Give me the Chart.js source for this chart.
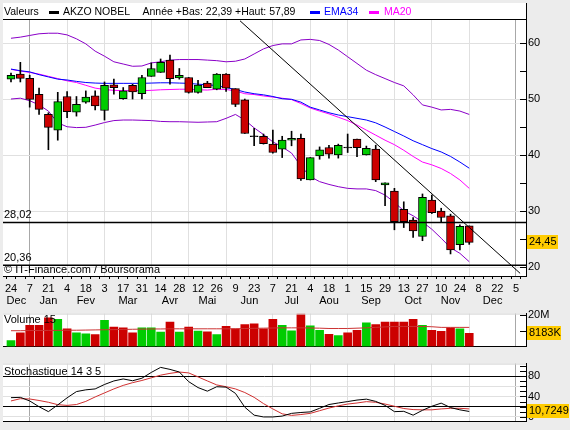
<!DOCTYPE html>
<html>
<head>
<meta charset="utf-8">
<script src="https://cdn.jsdelivr.net/npm/chart.js@4.4.1/dist/chart.umd.min.js"></script>
<style>
  html, body { margin: 0; padding: 0; background: #ececec; }
  #wrap { position: relative; width: 570px; height: 430px; overflow: hidden; }
  canvas { position: absolute; left: 0; }
</style>
</head>
<body>
<div id="wrap">
  <canvas id="price" width="570" height="310" style="top:0"></canvas>
  <canvas id="volume" width="570" height="50" style="top:305px"></canvas>
  <canvas id="stoch" width="570" height="75" style="top:355px"></canvas>
</div>
<script>
// weekly data, week 0 = 24 Dec 2007
var weekDays = [24, 7, 21, 4, 18, 3, 17, 31, 14, 28, 12, 26, 9, 23, 7, 21, 4, 18, 1, 15, 29, 13, 27, 10, 24, 8, 22, 5];
var monthNames = ['Dec', 'Jan', 'Fev', 'Mar', 'Avr', 'Mai', 'Jun', 'Jul', 'Aou', 'Sep', 'Oct', 'Nov', 'Dec'];
var monthStarts = [-3, 2, 6, 10, 15, 19, 23, 28, 32, 36, 41, 45, 49, 54];
var yearStarts = [2, 54];

var opens = [53.6, 54.5, 53.75, 50.9, 47.3, 44.5, 50.5, 47.7, 49.5, 50.6, 48.0, 52.6, 50.1, 52.5, 51.0, 54.1, 54.8, 57.0, 53.8, 53.9,
  51.25, 52.9, 51.8, 54.5, 51.9, 49.9, 43.4, 43.4, 42.0, 41.1, 42.7, 43.05, 35.6, 39.9, 41.4, 40.05, 41.4, 42.9, 40.05, 41.1,
  34.7, 33.6, 30.35, 28.45, 25.5, 32.0, 30.05, 29.2, 24.05, 27.4];
var highs = [54.7, 56.6, 54.3, 52.0, 47.6, 51.25, 51.4, 50.5, 51.5, 51.5, 53.1, 53.6, 52.1, 52.7, 54.3, 56.5, 57.2, 57.89, 55.5, 53.9,
  53.4, 53.2, 54.6, 54.6, 51.9, 50.05, 44.8, 43.8, 44.5, 43.4, 44.3, 43.8, 39.6, 41.5, 41.8, 42.0, 43.8, 42.9, 41.65, 41.8,
  35.1, 34.1, 31.7, 28.9, 33.1, 32.9, 30.55, 29.5, 27.6, 27.4];
var lows = [53.1, 53.1, 48.6, 47.3, 41.0, 42.7, 46.7, 47.0, 49.3, 48.1, 46.3, 50.9, 50.0, 50.05, 50.05, 54.1, 54.8, 52.7, 53.6, 51.1,
  51.1, 52.1, 51.7, 51.4, 48.7, 43.9, 41.7, 42.0, 40.4, 39.6, 41.7, 35.5, 35.6, 39.3, 39.5, 39.5, 40.5, 39.75, 40.05, 35.3,
  31.0, 26.7, 27.1, 25.35, 24.75, 29.6, 28.15, 22.39, 23.1, 24.1];
var closes = [54.3, 53.75, 50.0, 48.2, 45.0, 49.6, 47.8, 49.1, 50.4, 48.8, 52.5, 52.1, 51.5, 51.3, 53.9, 55.5, 56.6, 53.7, 54.3, 51.25,
  52.55, 52.1, 54.5, 52.0, 49.1, 43.9, 43.4, 42.1, 40.5, 42.7, 43.05, 35.8, 39.6, 41.0, 40.2, 41.8, 41.4, 41.35, 41.25, 35.6,
  35.1, 28.15, 28.15, 26.5, 32.5, 29.75, 28.9, 23.1, 27.3, 24.45];

var ema34 = [55.4, 55.1, 54.9, 54.4, 54.0, 53.6, 53.45, 53.2, 53.0, 52.9, 52.85, 52.85, 52.85, 52.85, 52.85, 52.9, 52.95, 52.95, 52.9, 52.85,
  52.7, 52.6, 52.45, 52.1, 51.75, 51.3, 51.0, 50.8, 50.5, 50.1, 50.0, 49.5, 48.6, 48.1, 47.6, 47.2, 46.9, 46.6, 46.3, 45.8,
  45.05, 44.25, 43.45, 42.6, 41.9, 41.2, 40.6, 39.8, 38.8, 37.7];
var ma20 = [55.35, 55.05, 54.8, 54.5, 54.1, 53.7, 53.3, 53.0, 52.5, 52.0, 51.75, 51.6, 51.55, 51.55, 51.55, 51.6, 51.7, 51.75, 51.8, 51.8,
  51.7, 51.65, 51.8, 51.75, 51.5, 51.0, 50.85, 50.6, 50.4, 50.2, 49.95, 49.25, 48.45, 47.9, 47.4, 46.8, 46.2, 45.4, 44.5, 43.6,
  42.7, 41.9, 40.9, 39.8, 38.8, 38.3, 37.65, 36.75, 35.6, 34.1];
var bollUp = [60.9, 61.1, 61.4, 61.7, 61.8, 61.8, 61.5, 60.8, 59.9, 58.6, 57.7, 56.7, 56.3, 55.9, 55.95, 56.5, 56.7, 57.0, 57.1, 57.1,
  57.1, 57.0, 56.9, 56.7, 56.8, 57.2, 58.1, 59.0, 59.6, 59.9, 59.9, 60.6, 60.7, 60.5, 59.8, 58.8, 57.6, 56.4, 55.2, 54.4,
  53.7, 53.0, 52.4, 50.8, 49.0, 48.6, 48.1, 48.2, 47.9, 47.3];
var bollDown = [50.05, 50.2, 49.75, 49.0, 47.9, 45.8, 45.1, 44.95, 45.0, 45.4, 45.85, 46.2, 46.3, 46.3, 46.25, 46.2, 46.05, 46.0, 46.0, 45.95,
  45.9, 45.95, 46.0, 46.6, 47.3, 46.3, 44.9, 43.7, 42.4, 41.5, 40.4, 38.1, 36.2, 35.3, 34.8, 34.4, 34.1, 34.0, 34.0, 33.7,
  32.9, 31.6, 30.1, 29.2, 28.1, 26.8, 25.2, 23.5, 22.5, 21.0];

var levels = [28.02, 20.36];
var trendX = [24.49, 54.44];
var trendY = [64.02, 18.93];

// volume in millions
var volumes = [3.7, 8.5, 13.3, 13.3, 18.0, 17.0, 11.1, 8.5, 8.0, 7.4, 16.4, 12.2, 11.7, 8.5, 11.7, 11.7, 9.0, 15.4, 9.0, 12.2,
  9.7, 9.2, 7.4, 12.7, 11.1, 13.8, 14.3, 11.1, 17.0, 13.3, 9.8, 20.6, 12.9, 10.2, 7.6, 6.9, 8.5, 10.2, 14.9, 13.8,
  15.4, 15.4, 15.4, 17.0, 13.3, 10.1, 9.5, 11.7, 11.1, 8.183];
var volUp = [1, 0, 0, 0, 0, 1, 0, 1, 1, 0, 1, 0, 0, 0, 1, 1, 1, 0, 1, 0,
  1, 0, 1, 0, 0, 0, 0, 0, 0, 1, 1, 0, 1, 1, 0, 1, 0, 0, 1, 0,
  0, 0, 0, 0, 1, 0, 0, 0, 1, 0];
var volMA = [9.9, 9.9, 10.0, 10.0, 10.1, 10.1, 10.2, 10.2, 10.3, 10.4, 10.5, 10.6, 10.7, 10.8, 10.9, 11.0, 11.0, 11.1, 11.1, 11.1,
  11.1, 11.1, 11.1, 11.1, 11.1, 11.3, 11.4, 11.5, 11.6, 11.7, 11.7, 11.7, 11.6, 11.5, 11.3, 11.3, 11.3, 11.5, 11.7, 12.0,
  12.3, 12.6, 12.6, 12.6, 12.6, 12.4, 12.0, 12.0, 12.0, 12.0];

var stochK = [37.7, 38.3, 31.3, 20.0, 10.4, 23.5, 37.4, 49.6, 53.0, 54.8, 63.5, 70.4, 74.3, 70.8, 75.7, 87.0, 96.9, 93.0, 87.8, 69.0,
  57.4, 50.4, 59.1, 58.3, 46.1, 19.1, 3.5, 0, 0, 1.7, 7.0, 8.7, 9.9, 16.9, 24.3, 27.3, 30.1, 33.0, 34.8, 30.4,
  22.6, 10.4, 11.0, 3.5, 13.0, 20.9, 27.0, 18.3, 13.9, 10.7249];
var stochD = [31.3, 35.7, 35.1, 32.2, 28.7, 24.0, 22.6, 24.3, 30.4, 39.1, 47.0, 54.8, 61.7, 67.0, 71.3, 76.5, 81.7, 85.2, 87.8, 86.1,
  78.3, 70.4, 62.6, 59.1, 54.8, 47.8, 38.3, 26.1, 15.7, 6.1, 3.0, 4.7, 7.0, 12.2, 17.4, 21.7, 25.2, 27.3, 29.9, 28.7,
  25.2, 20.9, 16.5, 14.4, 13.9, 13.9, 15.7, 16.9, 16.9, 15.7];

var X_MIN = -0.855, X_MAX = 55.07;
var GREEN = '#00cc00', RED = '#cc0000', GRID = '#e0e0e0', YEARLINE = '#a8a8a8', PURPLE = '#8a00c8';
var FONT = '"Liberation Sans", Arial, sans-serif';

Chart.defaults.font.family = FONT;
Chart.defaults.font.size = 11;
Chart.defaults.color = '#000';
Chart.defaults.animation = false;

function fmt(v, d) { return v.toFixed(d).replace('.', ','); }
function pts(arr) { return arr.map(function (v, i) { return { x: i, y: v }; }); }

var monthCentres = monthNames.map(function (m, k) {
  var a = Math.max(monthStarts[k], X_MIN), b = Math.min(monthStarts[k + 1], X_MAX);
  return (a + b) / 2;
});

// x axis carrying the month grid lines and the bottom border
function gridX() {
  return {
    type: 'linear', position: 'bottom', min: X_MIN, max: X_MAX, offset: false, weight: 0,
    afterBuildTicks: function (s) {
      s.ticks = monthStarts.filter(function (v) { return v >= X_MIN && v <= X_MAX; }).map(function (v) { return { value: v }; });
    },
    afterFit: function (s) { s.height = 0; },
    ticks: { display: false },
    grid: {
      drawTicks: false, offset: false,
      color: function (c) { return c.tick && yearStarts.indexOf(c.tick.value) >= 0 ? YEARLINE : GRID; }
    },
    border: { display: true, color: '#000', width: 1 }
  };
}

function valueY(tickVals, min, max, labelFn, gridFn) {
  return {
    type: 'linear', position: 'right', min: min, max: max,
    afterBuildTicks: function (s) { s.ticks = tickVals.map(function (v) { return { value: v }; }); },
    afterFit: function (s) { s.width = 44; },
    ticks: { autoSkip: false, padding: 2, callback: labelFn },
    grid: { drawTicks: false, color: gridFn, lineWidth: 1 },
    border: { display: true, color: '#000', width: 1 }
  };
}

var panelPlugin = {
  id: 'panel',
  beforeDraw: function (chart, args, opts) {
    var a = chart.chartArea, ctx = chart.ctx;
    var top = opts.top != null ? opts.top : a.top;
    ctx.save();
    ctx.fillStyle = '#fff';
    ctx.fillRect(a.left, top, a.right - a.left, a.bottom - top);
    ctx.restore();
  },
  afterDraw: function (chart, args, opts) {
    var a = chart.chartArea, ctx = chart.ctx, s = chart.scales.y;
    ctx.save();
    ctx.strokeStyle = '#000';
    ctx.lineWidth = 1;
    s.ticks.forEach(function (t) {
      var y = Math.round(s.getPixelForValue(t.value)) + 0.5;
      ctx.beginPath(); ctx.moveTo(a.right - 6, y); ctx.lineTo(a.right, y); ctx.stroke();
    });
    if (opts.topLine) { ctx.fillStyle = opts.topLine; ctx.fillRect(a.left, a.top, a.right - a.left, 1); }
    ctx.font = '11px ' + FONT;
    ctx.textBaseline = 'middle';
    ctx.fillStyle = '#000';
    if (opts.title) ctx.fillText(opts.title, a.left + 1, a.top + opts.titleDy);
    if (opts.extra) opts.extra(chart, ctx);
    if (opts.box) {
      var y = s.getPixelForValue(opts.box.value);
      ctx.fillStyle = '#ffcc00';
      ctx.fillRect(a.right + 1, Math.round(y - 7), opts.box.width, 14);
      ctx.fillStyle = '#000';
      ctx.font = '11px ' + FONT;
      ctx.fillText(opts.box.text, a.right + 3, y);
    }
    ctx.restore();
  }
};

function line(data, color, order) {
  return { type: 'line', data: pts(data), borderColor: color, borderWidth: 1, pointRadius: 0, tension: 0, order: order };
}

var idx = closes.map(function (v, i) { return i; });
var last = closes.length - 1;

// ---------- price ----------
var bodies = idx.map(function (i) {
  var o = opens[i], c = closes[i];
  if (Math.abs(o - c) < 0.1) return { x: i, y: [o - 0.09, o + 0.09] };
  return { x: i, y: [o, c] };
});
var bodyColors = idx.map(function (i) {
  if (Math.abs(opens[i] - closes[i]) < 0.1) return '#000';
  return closes[i] > opens[i] ? GREEN : RED;
});

new Chart(document.getElementById('price'), {
  type: 'bar',
  data: {
    datasets: [
      { type: 'line', data: [{ x: X_MIN, y: levels[0] }, { x: X_MAX, y: levels[0] }], borderColor: '#000', borderWidth: 1.5, pointRadius: 0, order: 0 },
      { type: 'line', data: [{ x: X_MIN, y: levels[1] }, { x: X_MAX, y: levels[1] }], borderColor: '#000', borderWidth: 1.5, pointRadius: 0, order: 0 },
      { type: 'line', data: [{ x: trendX[0], y: trendY[0] }, { x: trendX[1], y: trendY[1] }], borderColor: '#000', borderWidth: 1, pointRadius: 0, order: 0 },
      { data: bodies, backgroundColor: bodyColors, borderColor: '#000', borderWidth: 1, borderSkipped: false, barThickness: 8, grouped: false, order: 1 },
      { data: idx.map(function (i) { return { x: i, y: [lows[i], highs[i]] }; }), backgroundColor: '#000', borderWidth: 0, barThickness: 1, grouped: false, order: 2 },
      line(bollUp, PURPLE, 3),
      line(bollDown, PURPLE, 3),
      line(ema34, '#0000ff', 3),
      line(ma20, '#ff00ff', 3)
    ]
  },
  options: {
    responsive: false,
    events: [],
    layout: { autoPadding: false, padding: { left: 3, top: 19, right: 0, bottom: 0 } },
    scales: {
      x: gridX(),
      xd: {
        type: 'linear', position: 'bottom', min: X_MIN, max: X_MAX, offset: false, weight: 1,
        afterBuildTicks: function (s) {
          var t = [];
          for (var i = 0; i <= (weekDays.length - 1) * 2; i++) t.push({ value: i });
          s.ticks = t;
        },
        afterFit: function (s) { s.height = 16; },
        ticks: { autoSkip: false, maxRotation: 0, padding: 3, callback: function (v) { return v % 2 === 0 ? String(weekDays[v / 2]) : ''; } },
        grid: { drawOnChartArea: false, drawTicks: true, tickLength: 3, color: '#000' },
        border: { display: false }
      },
      xm: {
        type: 'linear', position: 'bottom', min: X_MIN, max: X_MAX, offset: false, weight: 2,
        afterBuildTicks: function (s) { s.ticks = monthCentres.map(function (v) { return { value: v }; }); },
        afterFit: function (s) { s.height = 18; },
        ticks: { autoSkip: false, maxRotation: 0, padding: 2, callback: function (v, i) { return monthNames[i]; } },
        grid: { display: false, drawTicks: false },
        border: { display: false }
      },
      y: valueY([20, 25, 30, 35, 40, 45, 50, 55, 60], 18.45, 64.34,
        function (v) { return v % 10 === 0 ? String(v) : ''; },
        function (c) { return c.tick && c.tick.value % 10 === 0 ? GRID : 'rgba(0,0,0,0)'; })
    },
    plugins: {
      legend: { display: false },
      tooltip: { enabled: false },
      panel: {
        top: 3,
        box: { value: closes[last], text: fmt(closes[last], 2), width: 31 },
        extra: function (chart, ctx) {
          var a = chart.chartArea, y = chart.scales.y;
          ctx.fillStyle = '#000';
          ctx.fillRect(a.left, 19, a.right - a.left, 1);
          ctx.fillRect(a.right, 3, 1, 16);
          ctx.font = '10.5px ' + FONT;
          ctx.fillText('Valeurs', 4, 12.5);
          ctx.fillRect(49, 11, 10, 3);
          ctx.fillText('AKZO NOBEL', 63, 12.5);
          ctx.fillText('Ann\u00e9e +Bas: ' + fmt(Math.min.apply(null, lows), 2) + ' +Haut: ' + fmt(Math.max.apply(null, highs), 2), 142.5, 12.5);
          ctx.fillStyle = '#0000ff';
          ctx.fillRect(310, 11, 10, 3);
          ctx.fillText('EMA34', 324, 12.5);
          ctx.fillStyle = '#ff00ff';
          ctx.fillRect(369, 11, 10, 3);
          ctx.fillText('MA20', 384, 12.5);
          ctx.font = '11px ' + FONT;
          ctx.fillStyle = '#000';
          levels.forEach(function (l) { ctx.fillText(fmt(l, 2), 4, y.getPixelForValue(l) - 7); });
          ctx.fillText('\u00a9 IT-Finance.com / Boursorama', 4, 269.5);
        }
      }
    }
  },
  plugins: [panelPlugin]
});

// ---------- volume ----------
new Chart(document.getElementById('volume'), {
  type: 'bar',
  data: {
    datasets: [
      line(volMA, '#cc3333', 0),
      { data: pts(volumes), backgroundColor: volUp.map(function (u) { return u ? GREEN : RED; }), borderWidth: 0, barThickness: 8, grouped: false, order: 1 }
    ]
  },
  options: {
    responsive: false,
    events: [],
    layout: { autoPadding: false, padding: { left: 3, top: 8, right: 0, bottom: 3 } },
    scales: {
      x: gridX(),
      y: valueY([10, 20], 0, 20.69,
        function (v) { return v === 20 ? '20M' : ''; },
        function () { return 'rgba(0,0,0,0)'; })
    },
    plugins: {
      legend: { display: false },
      tooltip: { enabled: false },
      panel: {
        topLine: '#d4d4d4', title: 'Volume 15', titleDy: 6,
        box: { value: volumes[last], text: Math.round(volumes[last] * 1000) + 'K', width: 34 }
      }
    }
  },
  plugins: [panelPlugin]
});

// ---------- stochastic ----------
new Chart(document.getElementById('stoch'), {
  type: 'line',
  data: {
    datasets: [
      line(stochK, '#000', 0),
      line(stochD, '#d03030', 1)
    ]
  },
  options: {
    responsive: false,
    events: [],
    layout: { autoPadding: false, padding: { left: 3, top: 4, right: 0, bottom: 6 } },
    scales: {
      x: gridX(),
      y: valueY([0, 10, 20, 30, 40, 50, 60, 70, 80, 90, 100], -8.7, 104.3,
        function (v) { return (v === 80 || v === 40 || v === 0) ? String(v) : ''; },
        function (c) {
          if (!c.tick) return 'rgba(0,0,0,0)';
          var v = c.tick.value;
          if (v === 20 || v === 80) return '#000';
          if (v === 0 || v === 40 || v === 60) return GRID;
          return 'rgba(0,0,0,0)';
        })
    },
    plugins: {
      legend: { display: false },
      tooltip: { enabled: false },
      panel: {
        topLine: '#d4d4d4', title: 'Stochastique 14 3 5', titleDy: 8,
        box: { value: stochK[last], text: fmt(stochK[last], 4), width: 42 }
      }
    }
  },
  plugins: [panelPlugin]
});
</script>
</body>
</html>
